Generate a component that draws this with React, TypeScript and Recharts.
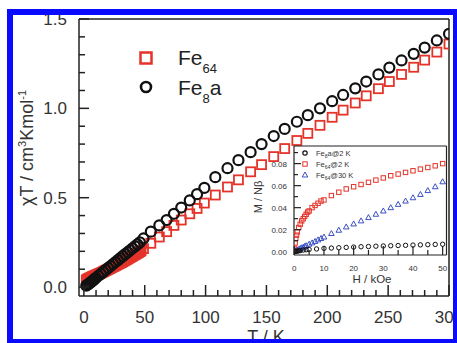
import React from 'react';
import { ScatterChart, Scatter, XAxis, YAxis, ReferenceLine } from 'recharts';

// ---------- Main plot data (chi T vs T) ----------
const tempFe64 = [2, 3, 4, 5, 6, 7, 8, 9, 10, 11, 12, 13, 14, 15, 16, 17, 18, 19, 20, 21, 22, 23, 24, 25, 26, 27, 28, 29, 30, 31, 32, 33, 34, 35, 36, 37, 38, 39, 40, 41, 42, 43, 44, 45, 46, 47, 49, 55, 62, 68, 74, 80, 87, 93, 99, 108, 118, 127, 137, 146, 156, 165, 175, 184, 194, 204, 213, 223, 232, 242, 251, 261, 271, 280, 290, 300];
const chiTFe64 = [0.04, 0.045, 0.048, 0.052, 0.055, 0.058, 0.061, 0.064, 0.067, 0.07, 0.073, 0.076, 0.079, 0.082, 0.086, 0.089, 0.093, 0.096, 0.1, 0.103, 0.107, 0.11, 0.114, 0.117, 0.121, 0.124, 0.128, 0.131, 0.135, 0.138, 0.142, 0.146, 0.15, 0.154, 0.158, 0.162, 0.166, 0.17, 0.174, 0.178, 0.182, 0.186, 0.19, 0.194, 0.198, 0.203, 0.215, 0.245, 0.28, 0.31, 0.345, 0.375, 0.41, 0.44, 0.47, 0.515, 0.56, 0.6, 0.645, 0.685, 0.73, 0.775, 0.82, 0.86, 0.905, 0.95, 0.99, 1.03, 1.07, 1.11, 1.15, 1.19, 1.23, 1.27, 1.315, 1.36];
const tempFe8a = [2, 3, 4, 5, 6, 7, 8, 9, 10, 12, 14, 16, 18, 20, 22, 24, 26, 28, 30, 32, 34, 36, 38, 40, 42, 44, 46, 49, 55, 62, 68, 74, 80, 87, 93, 99, 108, 118, 127, 137, 146, 156, 165, 175, 184, 194, 204, 213, 223, 232, 242, 251, 261, 271, 280, 290, 300];
const chiTFe8a = [0.008, 0.013, 0.018, 0.023, 0.028, 0.034, 0.04, 0.046, 0.052, 0.063, 0.074, 0.085, 0.096, 0.107, 0.118, 0.129, 0.14, 0.151, 0.162, 0.173, 0.184, 0.195, 0.206, 0.217, 0.228, 0.239, 0.25, 0.272, 0.31, 0.345, 0.375, 0.41, 0.445, 0.485, 0.52, 0.555, 0.615, 0.665, 0.71, 0.755, 0.8, 0.845, 0.885, 0.925, 0.962, 1.0, 1.04, 1.075, 1.112, 1.15, 1.19, 1.228, 1.268, 1.305, 1.34, 1.38, 1.417];

const mainXTicks = [0, 10, 20, 30, 40, 50, 60, 70, 80, 90, 100, 110, 120, 130, 140, 150, 160, 170, 180, 190, 200, 210, 220, 230, 240, 250, 260, 270, 280, 290, 300];
const mainYTicks = [0, 0.1, 0.2, 0.3, 0.4, 0.5, 0.6, 0.7, 0.8, 0.9, 1.0, 1.1, 1.2, 1.3, 1.4, 1.5];
const mainYLabels = ['0.0', '0.5', '1.0', '1.5'];

// ---------- Inset data (M vs H) ----------
const fieldFe8a2K = [0.25, 0.5, 1, 1.5, 2, 3, 4, 5, 7.5, 10, 12.5, 15, 17.5, 20, 22.5, 25, 27.5, 30, 32.5, 35, 37.5, 40, 42.5, 45, 47.5, 50];
const magFe8a2K = [0.0002, 0.0004, 0.0006, 0.0008, 0.001, 0.0015, 0.0018, 0.002, 0.0025, 0.003, 0.0033, 0.0036, 0.0039, 0.0042, 0.0045, 0.0047, 0.005, 0.0052, 0.0054, 0.0056, 0.0058, 0.006, 0.0062, 0.0064, 0.0066, 0.0068];
const fieldFe64_2K = [0.1, 0.3, 0.5, 0.75, 1, 1.5, 2, 2.5, 3, 3.5, 4, 4.5, 5, 6, 7, 8, 9, 10, 12.5, 15, 17.5, 20, 22.5, 25, 27.5, 30, 32.5, 35, 37.5, 40, 42.5, 45, 47.5, 50];
const magFe64_2K = [0.003, 0.008, 0.012, 0.015, 0.018, 0.022, 0.025, 0.028, 0.03, 0.032, 0.034, 0.036, 0.037, 0.04, 0.042, 0.044, 0.046, 0.047, 0.051, 0.054, 0.057, 0.059, 0.061, 0.063, 0.065, 0.067, 0.069, 0.0705, 0.072, 0.0735, 0.075, 0.0765, 0.078, 0.08];
const fieldFe64_30K = [0.25, 0.5, 1, 1.5, 2, 2.5, 3, 3.5, 4, 5, 6, 7, 8, 9, 10, 12.5, 15, 17.5, 20, 22.5, 25, 27.5, 30, 32.5, 35, 37.5, 40, 42.5, 45, 47.5, 50];
const magFe64_30K = [0.0005, 0.001, 0.0015, 0.002, 0.003, 0.0035, 0.004, 0.0048, 0.0055, 0.0068, 0.008, 0.0093, 0.0107, 0.012, 0.0133, 0.0165, 0.0195, 0.0225, 0.0252, 0.028, 0.031, 0.034, 0.037, 0.04, 0.043, 0.046, 0.049, 0.052, 0.0555, 0.059, 0.0635];

const insetXTicks = [0, 5, 10, 15, 20, 25, 30, 35, 40, 45, 50];
const insetYTicks = [0, 0.01, 0.02, 0.03, 0.04, 0.05, 0.06, 0.07, 0.08, 0.09];

const zip = (xs: number[], ys: number[]) => xs.map((x, i) => ({ x, y: ys[i] }));

const FONT = 'Liberation Sans, Arial, Helvetica, sans-serif';
const AXIS = '#222';
const LABEL = '#333';
const RED = '#e5332a';
const BLUE = '#3b4fc4';

const MainXTick = (p: any) => {
  const v = p.payload.value;
  const major = v % 50 === 0;
  return (
    <g>
      <line x1={p.x} x2={p.x} y1={p.y} y2={p.y - (major ? 11 : 6)} stroke={AXIS} strokeWidth={1.5} />
      {major && (
        <text x={p.x} y={p.y + 27} textAnchor="middle" fontSize={17} fill={LABEL} fontFamily={FONT}>{v}</text>
      )}
    </g>
  );
};

const MainYTick = (p: any) => {
  const v = p.payload.value;
  const idx = Math.round(v * 10);
  const major = idx % 5 === 0;
  return (
    <g>
      <line x1={p.x} x2={p.x + (major ? 10 : 6)} y1={p.y} y2={p.y} stroke={AXIS} strokeWidth={1.5} />
      {major && (
        <text x={p.x - 12} y={p.y + 6} textAnchor="end" fontSize={17} fill={LABEL} fontFamily={FONT}>{mainYLabels[idx / 5]}</text>
      )}
    </g>
  );
};

const InsetXTick = (p: any) => {
  const v = p.payload.value;
  const major = v % 10 === 0;
  return (
    <g>
      <line x1={p.x} x2={p.x} y1={p.y} y2={p.y - (major ? 9 : 5)} stroke={AXIS} strokeWidth={1.2} />
      {major && (
        <text x={p.x} y={p.y + 16} textAnchor="middle" fontSize={8} fill={LABEL} fontFamily={FONT}>{v}</text>
      )}
    </g>
  );
};

const InsetYTick = (p: any) => {
  const v = p.payload.value;
  const idx = Math.round(v * 100);
  const major = idx % 2 === 0;
  return (
    <g>
      <line x1={p.x} x2={p.x + (major ? 7 : 4)} y1={p.y} y2={p.y} stroke={AXIS} strokeWidth={1.2} />
      {major && (
        <text x={p.x - 7} y={p.y + 3} textAnchor="end" fontSize={8} fill={LABEL} fontFamily={FONT}>{v.toFixed(2)}</text>
      )}
    </g>
  );
};

const bigCircle = (p: any) => <circle cx={p.cx} cy={p.cy} r={5} fill="none" stroke="#111" strokeWidth={2.2} />;
const bigSquare = (p: any) => <rect x={p.cx - 4.5} y={p.cy - 4.5} width={9} height={9} fill="none" stroke={RED} strokeWidth={1.8} />;
const smallCircle = (p: any) => <circle cx={p.cx} cy={p.cy} r={2.2} fill="none" stroke="#111" strokeWidth={1} />;
const smallSquare = (p: any) => <rect x={p.cx - 2.2} y={p.cy - 2.2} width={4.4} height={4.4} fill="none" stroke={RED} strokeWidth={1} />;
const smallTriangle = (p: any) => (
  <path d={`M${p.cx},${p.cy - 3} L${p.cx + 2.8},${p.cy + 2} L${p.cx - 2.8},${p.cy + 2} Z`} fill="none" stroke={BLUE} strokeWidth={1} />
);

export default function App() {
  const fe64 = zip(tempFe64, chiTFe64);
  const fe8a = zip(tempFe8a, chiTFe8a);
  const m8a = zip(fieldFe8a2K, magFe8a2K);
  const m64 = zip(fieldFe64_2K, magFe64_2K);
  const m64h = zip(fieldFe64_30K, magFe64_30K);

  return (
    <div style={{ position: 'absolute', left: 0, top: 0, width: 457, height: 343, background: '#fff', overflow: 'hidden', fontFamily: FONT }}>
      <div style={{ position: 'absolute', left: 0, top: 0 }}>
        <ScatterChart width={457} height={343} margin={{ top: 19, right: 8, bottom: 0, left: 0 }}>
          <XAxis type="number" dataKey="x" domain={[-4, 300]} ticks={mainXTicks} interval={0} allowDataOverflow
            height={47} tickSize={0} tickMargin={0} tickLine={false} tick={<MainXTick />}
            axisLine={{ stroke: AXIS, strokeWidth: 1.5 }} />
          <YAxis type="number" dataKey="y" domain={[-0.05, 1.5]} ticks={mainYTicks} interval={0} allowDataOverflow
            width={79} tickSize={0} tickMargin={0} tickLine={false} tick={<MainYTick />}
            axisLine={{ stroke: AXIS, strokeWidth: 1.5 }} />
          <ReferenceLine y={1.5} stroke={AXIS} strokeWidth={1.5} />
          <ReferenceLine x={300} stroke={AXIS} strokeWidth={1.5} />
          <Scatter data={fe64} shape={bigSquare} isAnimationActive={false} />
          <Scatter data={fe8a} shape={bigCircle} isAnimationActive={false} />
        </ScatterChart>
      </div>

      <div style={{ position: 'absolute', left: 250, top: 140 }}>
        <ScatterChart width={200} height={150} margin={{ top: 6, right: 3.5, bottom: 0, left: 0 }}>
          <XAxis type="number" dataKey="x" domain={[-0.1, 51.3]} ticks={insetXTicks} interval={0} allowDataOverflow
            height={35} tickSize={0} tickMargin={0} tickLine={false} tick={<InsetXTick />}
            axisLine={{ stroke: AXIS, strokeWidth: 1.2 }} />
          <YAxis type="number" dataKey="y" domain={[-0.003, 0.096]} ticks={insetYTicks} interval={0} allowDataOverflow
            width={44} tickSize={0} tickMargin={0} tickLine={false} tick={<InsetYTick />}
            axisLine={{ stroke: AXIS, strokeWidth: 1.2 }} />
          <ReferenceLine y={0.096} stroke={AXIS} strokeWidth={1.2} />
          <ReferenceLine x={51.3} stroke={AXIS} strokeWidth={1.2} />
          <Scatter data={m64h} shape={smallTriangle} isAnimationActive={false} />
          <Scatter data={m64} shape={smallSquare} isAnimationActive={false} />
          <Scatter data={m8a} shape={smallCircle} isAnimationActive={false} />
        </ScatterChart>
      </div>

      <svg width={457} height={343} style={{ position: 'absolute', left: 0, top: 0, pointerEvents: 'none' }} fontFamily={FONT}>
        {/* main axis titles */}
        <text transform="translate(33,148) rotate(-90)" textAnchor="middle" fontSize={18} fill={LABEL}>
          χT / cm<tspan dy={-7} fontSize={11}>3</tspan><tspan dy={7}>Kmol</tspan><tspan dy={-7} fontSize={11}>-1</tspan>
        </text>
        <text x={266} y={343} textAnchor="middle" fontSize={18} fill={LABEL}>T / K</text>

        {/* main legend */}
        <rect x={140.5} y={52.5} width={11} height={11} fill="none" stroke={RED} strokeWidth={2.5} />
        <text x={178} y={65} fontSize={21} fill="#222">Fe<tspan dy={8} fontSize={13}>64</tspan></text>
        <circle cx={146} cy={87} r={5} fill="none" stroke="#111" strokeWidth={2.6} />
        <text x={178} y={95} fontSize={21} fill="#222">Fe<tspan dy={8} fontSize={13}>8</tspan><tspan dy={-8}>a</tspan></text>

        {/* inset axis titles */}
        <text transform="translate(262,197) rotate(-90)" textAnchor="middle" fontSize={11} fill={LABEL}>M / Nβ</text>
        <text x={372} y={283} textAnchor="middle" fontSize={11.5} fill={LABEL}>H / kOe</text>

        {/* inset legend */}
        <circle cx={305} cy={153} r={2.2} fill="none" stroke="#111" strokeWidth={1.2} />
        <text x={316} y={155.7} fontSize={7.5} fill={LABEL}>Fe<tspan dy={2} fontSize={5}>8</tspan><tspan dy={-2}>a@2 K</tspan></text>
        <rect x={302.8} y={161.8} width={4.4} height={4.4} fill="none" stroke={RED} strokeWidth={1} />
        <text x={316} y={166.7} fontSize={7.5} fill={LABEL}>Fe<tspan dy={2} fontSize={5}>64</tspan><tspan dy={-2}>@2 K</tspan></text>
        <path d="M305,172 L307.8,177 L302.2,177 Z" fill="none" stroke={BLUE} strokeWidth={1} />
        <text x={316} y={177.7} fontSize={7.5} fill={LABEL}>Fe<tspan dy={2} fontSize={5}>64</tspan><tspan dy={-2}>@30 K</tspan></text>
      </svg>

      {/* blue outer border */}
      <div style={{ position: 'absolute', left: 7, top: 9, width: 450, height: 334, boxSizing: 'border-box', borderStyle: 'solid', borderColor: '#0a0aff', borderWidth: '6px 4px 4px 6px' }} />
    </div>
  );
}
